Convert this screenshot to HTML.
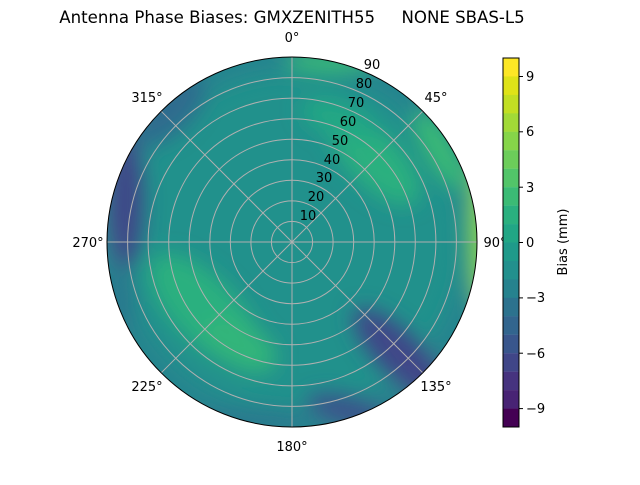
<!DOCTYPE html>
<html><head><meta charset="utf-8"><style>
body{margin:0;background:#fff;}
svg text{font-family:"DejaVu Sans","Liberation Sans",sans-serif;font-size:13px;fill:#000}
</style></head><body>
<svg width="640" height="480" viewBox="0 0 640 480" xmlns="http://www.w3.org/2000/svg">
<defs>
<clipPath id="c"><circle cx="292" cy="242" r="185"/></clipPath>
<filter id="b" x="-50%" y="-50%" width="200%" height="200%"><feGaussianBlur stdDeviation="10"/></filter>
</defs>
<text x="292" y="23" text-anchor="middle" style="font-size:16.6px;white-space:pre" xml:space="preserve">Antenna Phase Biases: GMXZENITH55     NONE SBAS-L5</text>
<g clip-path="url(#c)">
<rect x="100" y="50" width="390" height="390" fill="#21918c"/>
<g filter="url(#b)">
<circle cx="292" cy="242" r="185" fill="none" stroke="#25848e" stroke-width="30"/>
<ellipse cx="375" cy="160" rx="26" ry="58" transform="rotate(-45 375 160)" fill="#2ab07f"/>
<ellipse cx="340" cy="120" rx="18" ry="40" transform="rotate(-70 340 120)" fill="#22a884"/>
<ellipse cx="205" cy="310" rx="32" ry="72" transform="rotate(-45 205 310)" fill="#2ab07f"/>
<ellipse cx="240" cy="345" rx="22" ry="40" transform="rotate(-60 240 345)" fill="#33b57a"/>
<ellipse cx="125" cy="200" rx="18" ry="70" fill="#404688"/>
<ellipse cx="170" cy="110" rx="22" ry="45" transform="rotate(45 170 110)" fill="#2f6c8e"/>
<ellipse cx="405" cy="360" rx="22" ry="70" transform="rotate(-45 405 360)" fill="#404688"/>
<ellipse cx="350" cy="412" rx="15" ry="45" transform="rotate(-75 350 412)" fill="#3b528b"/>
<ellipse cx="250" cy="420" rx="60" ry="12" fill="#2a788e"/>
<ellipse cx="482" cy="230" rx="12" ry="80" fill="#86d549"/>
<ellipse cx="440" cy="150" rx="14" ry="45" transform="rotate(-30 440 150)" fill="#3bbb75"/>
<ellipse cx="330" cy="62" rx="45" ry="10" fill="#3bbb75"/>
<ellipse cx="120" cy="300" rx="15" ry="35" fill="#2a788e"/>
</g>
</g>
<g stroke="#b0b0b0" stroke-width="1" fill="none">
<circle cx="292" cy="242" r="20.6"/><circle cx="292" cy="242" r="41.1"/><circle cx="292" cy="242" r="61.7"/>
<circle cx="292" cy="242" r="82.2"/><circle cx="292" cy="242" r="102.8"/><circle cx="292" cy="242" r="123.3"/>
<circle cx="292" cy="242" r="143.9"/><circle cx="292" cy="242" r="164.4"/>
<line x1="292" y1="57" x2="292" y2="427"/><line x1="107" y1="242" x2="477" y2="242"/>
<line x1="161.2" y1="111.2" x2="422.8" y2="372.8"/><line x1="422.8" y1="111.2" x2="161.2" y2="372.8"/>
</g>
<circle cx="292" cy="242" r="185" fill="none" stroke="#000" stroke-width="1"/>
<g text-anchor="middle">
<text x="308" y="220">10</text><text x="316" y="201">20</text><text x="324" y="182">30</text>
<text x="332" y="164">40</text><text x="340" y="145">50</text><text x="348" y="126">60</text>
<text x="356" y="107">70</text><text x="364" y="88">80</text><text x="372" y="69">90</text>
<text x="292" y="42">0°</text><text x="436" y="102">45°</text><text x="495" y="247">90°</text>
<text x="436" y="391">135°</text><text x="292" y="451">180°</text><text x="147" y="391">225°</text>
<text x="88" y="247">270°</text><text x="147" y="102">315°</text>
</g>
<g>
<rect x="503" y="58.00" width="16" height="18.6" fill="#fde725"/>
<rect x="503" y="76.45" width="16" height="18.6" fill="#dfe318"/>
<rect x="503" y="94.90" width="16" height="18.6" fill="#c2df23"/>
<rect x="503" y="113.35" width="16" height="18.6" fill="#a2da37"/>
<rect x="503" y="131.80" width="16" height="18.6" fill="#86d549"/>
<rect x="503" y="150.25" width="16" height="18.6" fill="#6ccd5a"/>
<rect x="503" y="168.70" width="16" height="18.6" fill="#52c569"/>
<rect x="503" y="187.15" width="16" height="18.6" fill="#3bbb75"/>
<rect x="503" y="205.60" width="16" height="18.6" fill="#2ab07f"/>
<rect x="503" y="224.05" width="16" height="18.6" fill="#21a685"/>
<rect x="503" y="242.50" width="16" height="18.6" fill="#1f9a8a"/>
<rect x="503" y="260.95" width="16" height="18.6" fill="#22908d"/>
<rect x="503" y="279.40" width="16" height="18.6" fill="#26828e"/>
<rect x="503" y="297.85" width="16" height="18.6" fill="#2c728e"/>
<rect x="503" y="316.30" width="16" height="18.6" fill="#32658e"/>
<rect x="503" y="334.75" width="16" height="18.6" fill="#39568c"/>
<rect x="503" y="353.20" width="16" height="18.6" fill="#404688"/>
<rect x="503" y="371.65" width="16" height="18.6" fill="#46337f"/>
<rect x="503" y="390.10" width="16" height="18.6" fill="#482374"/>
<rect x="503" y="408.55" width="16" height="18.45" fill="#440154"/>
</g>
<rect x="503" y="58" width="16" height="369" fill="none" stroke="#000" stroke-width="1"/>
<g stroke="#000" stroke-width="1">
<line x1="519" y1="76.5" x2="523" y2="76.5"/><line x1="519" y1="131.8" x2="523" y2="131.8"/>
<line x1="519" y1="187.2" x2="523" y2="187.2"/><line x1="519" y1="242.5" x2="523" y2="242.5"/>
<line x1="519" y1="297.9" x2="523" y2="297.9"/><line x1="519" y1="353.2" x2="523" y2="353.2"/>
<line x1="519" y1="408.6" x2="523" y2="408.6"/>
</g>
<g>
<text x="526" y="81">9</text><text x="526" y="136">6</text><text x="526" y="192">3</text>
<text x="526" y="247">0</text><text x="526" y="302">−3</text><text x="526" y="358">−6</text>
<text x="526" y="413">−9</text>
</g>
<text x="567" y="242" text-anchor="middle" transform="rotate(-90 567 242)" style="font-size:13px">Bias (mm)</text>
</svg>
</body></html>
